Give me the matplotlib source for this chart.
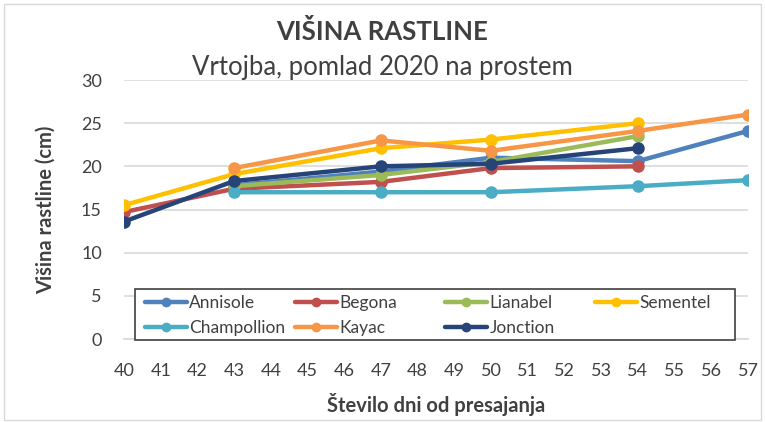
import matplotlib.pyplot as plt
from matplotlib.patches import Rectangle

plt.rcParams['font.family'] = ['Lato', 'DejaVu Sans']

days = [40, 43, 47, 50, 54, 57]

annisole = [None, 17.8, 19.4, 21.0, 20.6, 24.1]
begona = [14.7, 17.4, 18.2, 19.8, 20.0, None]
lianabel = [None, 17.7, 19.0, 20.5, 23.5, None]
sementel = [15.5, 19.1, 22.1, 23.1, 25.0, None]
champollion = [None, 17.0, 17.0, 17.0, 17.7, 18.4]
kayac = [None, 19.8, 23.0, 21.8, 24.1, 26.0]
jonction = [13.6, 18.3, 20.0, 20.3, 22.1, None]

series = [
    ('Annisole', annisole, '#4f81bd'),
    ('Begona', begona, '#c0504d'),
    ('Lianabel', lianabel, '#9bbb59'),
    ('Sementel', sementel, '#ffc000'),
    ('Champollion', champollion, '#4bacc6'),
    ('Kayac', kayac, '#f79646'),
    ('Jonction', jonction, '#264478'),
]

x_ticks = list(range(40, 58))
y_ticks = [0, 5, 10, 15, 20, 25, 30]

W, H = 765, 422
fig = plt.figure(figsize=(W / 100, H / 100), dpi=100)
fig.patches.append(Rectangle((0.005, 0.005), 0.99, 0.985, transform=fig.transFigure,
                             fill=False, edgecolor='#d9d9d9', linewidth=1))
ax = fig.add_axes([124 / W, 1 - 339 / H, (748 - 124) / W, (339 - 80) / H])

lines = {}
for name, values, color in series:
    xs = [d for d, v in zip(days, values) if v is not None]
    ys = [v for v in values if v is not None]
    line, = ax.plot(xs, ys, color=color, linewidth=3.2, marker='o', markersize=8,
                    label=name, solid_capstyle='round', zorder=3)
    lines[name] = line

ax.set_xlim(40, 57)
ax.set_ylim(0, 30)
ax.set_xticks(x_ticks)
ax.set_yticks(y_ticks)
ax.tick_params(axis='both', length=0, labelsize=13, colors='#404040')
ax.tick_params(axis='x', pad=17)
ax.tick_params(axis='y', pad=16)
ax.grid(axis='y', color='#d9d9d9', linewidth=1.2)
ax.set_axisbelow(True)
for side in ['top', 'right', 'left']:
    ax.spines[side].set_visible(False)
ax.spines['bottom'].set_color('#d9d9d9')
ax.spines['bottom'].set_linewidth(1.2)

ax.set_ylabel('Višina rastline (cm)', fontsize=14.5, fontweight='bold', color='#404040', labelpad=18)
ax.set_xlabel('Število dni od presajanja', fontsize=14.5, fontweight='bold', color='#404040', labelpad=10)

fig.text(0.5, 1 - 32 / H, 'VIŠINA RASTLINE', ha='center', va='center',
         fontsize=18.5, fontweight='bold', color='#404040')
fig.text(0.5, 1 - 67 / H, 'Vrtojba, pomlad 2020 na prostem', ha='center', va='center',
         fontsize=18.5, color='#404040')

# legend frame, then one legend per column so columns sit at fixed spacing
fig.patches.append(Rectangle((135 / W, 1 - 340 / H), 600 / W, 51 / H, transform=fig.transFigure,
                             facecolor='white', edgecolor='#404040', linewidth=1.2, zorder=5))
columns = [['Annisole', 'Champollion'], ['Begona', 'Kayac'], ['Lianabel', 'Jonction'], ['Sementel']]
col_x = [145, 295, 445, 595]
for names, x0 in zip(columns, col_x):
    leg = fig.legend([lines[n] for n in names], names, loc='upper left',
                     bbox_to_anchor=(x0 / W, 1 - 295 / H), bbox_transform=fig.transFigure,
                     fontsize=12.5, frameon=False, handlelength=2.4, handletextpad=0.15,
                     borderpad=0, borderaxespad=0, labelspacing=0.5, markerscale=0.75)
    for t in leg.get_texts():
        t.set_color('#404040')
    leg.set_zorder(6)

fig.savefig('out.png', dpi=100)
